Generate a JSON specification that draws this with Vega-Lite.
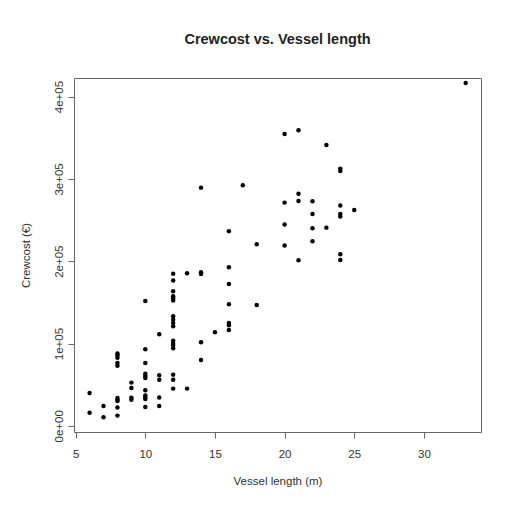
{
  "$schema": "https://vega.github.io/schema/vega-lite/v6.json",
  "width": 407,
  "height": 354,
  "autosize": "none",
  "padding": {"left": 74, "top": 78, "right": 36, "bottom": 74},
  "background": "white",
  "title": {"text": "Crewcost vs. Vessel length", "fontSize": 14.5, "font": "Liberation Sans", "fontWeight": "bold", "color": "#222222", "anchor": "middle", "offset": 32, "baseline": "alphabetic", "dy": 12},
  "config": {"view": {"stroke": "#666666", "strokeWidth": 1}},
  "data": {"values": [
    {"length": 6, "crewcost": 39900}, {"length": 6, "crewcost": 16000},
    {"length": 7, "crewcost": 24000}, {"length": 7, "crewcost": 10300},
    {"length": 8, "crewcost": 88000}, {"length": 8, "crewcost": 85700}, {"length": 8, "crewcost": 82600}, {"length": 8, "crewcost": 76500}, {"length": 8, "crewcost": 72900}, {"length": 8, "crewcost": 33800}, {"length": 8, "crewcost": 31800}, {"length": 8, "crewcost": 30100}, {"length": 8, "crewcost": 22300}, {"length": 8, "crewcost": 12400},
    {"length": 9, "crewcost": 52500}, {"length": 9, "crewcost": 45900}, {"length": 9, "crewcost": 34000}, {"length": 9, "crewcost": 31800},
    {"length": 10, "crewcost": 151600}, {"length": 10, "crewcost": 93000}, {"length": 10, "crewcost": 76300}, {"length": 10, "crewcost": 63400}, {"length": 10, "crewcost": 60500}, {"length": 10, "crewcost": 58000}, {"length": 10, "crewcost": 43100}, {"length": 10, "crewcost": 37000}, {"length": 10, "crewcost": 34500}, {"length": 10, "crewcost": 32500}, {"length": 10, "crewcost": 22900},
    {"length": 11, "crewcost": 111200}, {"length": 11, "crewcost": 61400}, {"length": 11, "crewcost": 56100}, {"length": 11, "crewcost": 34300}, {"length": 11, "crewcost": 24100},
    {"length": 12, "crewcost": 184900}, {"length": 12, "crewcost": 176600}, {"length": 12, "crewcost": 163400}, {"length": 12, "crewcost": 157300}, {"length": 12, "crewcost": 154900}, {"length": 12, "crewcost": 152300}, {"length": 12, "crewcost": 133000}, {"length": 12, "crewcost": 129000}, {"length": 12, "crewcost": 124900}, {"length": 12, "crewcost": 120900}, {"length": 12, "crewcost": 103500}, {"length": 12, "crewcost": 100600}, {"length": 12, "crewcost": 98300}, {"length": 12, "crewcost": 94300}, {"length": 12, "crewcost": 62200}, {"length": 12, "crewcost": 56100}, {"length": 12, "crewcost": 45200},
    {"length": 13, "crewcost": 185300}, {"length": 13, "crewcost": 45200},
    {"length": 14, "crewcost": 289400}, {"length": 14, "crewcost": 186500}, {"length": 14, "crewcost": 184600}, {"length": 14, "crewcost": 101500}, {"length": 14, "crewcost": 80000},
    {"length": 15, "crewcost": 113600},
    {"length": 16, "crewcost": 236300}, {"length": 16, "crewcost": 192600}, {"length": 16, "crewcost": 172400}, {"length": 16, "crewcost": 147600}, {"length": 16, "crewcost": 124900}, {"length": 16, "crewcost": 122100}, {"length": 16, "crewcost": 116500},
    {"length": 17, "crewcost": 292200},
    {"length": 18, "crewcost": 220500}, {"length": 18, "crewcost": 146800},
    {"length": 20, "crewcost": 354600}, {"length": 20, "crewcost": 271200}, {"length": 20, "crewcost": 244500}, {"length": 20, "crewcost": 219000},
    {"length": 21, "crewcost": 359100}, {"length": 21, "crewcost": 282100}, {"length": 21, "crewcost": 273100}, {"length": 21, "crewcost": 201100},
    {"length": 22, "crewcost": 272800}, {"length": 22, "crewcost": 257400}, {"length": 22, "crewcost": 240000}, {"length": 22, "crewcost": 224200},
    {"length": 23, "crewcost": 341200}, {"length": 23, "crewcost": 240800},
    {"length": 24, "crewcost": 312500}, {"length": 24, "crewcost": 309600}, {"length": 24, "crewcost": 267600}, {"length": 24, "crewcost": 257400}, {"length": 24, "crewcost": 254200}, {"length": 24, "crewcost": 208400}, {"length": 24, "crewcost": 201500},
    {"length": 25, "crewcost": 262200},
    {"length": 33, "crewcost": 416500}
  ]},
  "mark": {"type": "circle", "size": 20, "color": "#000000", "opacity": 1},
  "encoding": {
    "x": {
      "field": "length", "type": "quantitative",
      "scale": {"domain": [4.88, 34.1], "nice": false, "zero": false},
      "axis": {"values": [5, 10, 15, 20, 25, 30], "title": "Vessel length (m)", "grid": false, "domain": false,
        "tickColor": "#666666", "tickSize": 6, "labelFont": "Liberation Sans", "labelFontSize": 11.5, "labelColor": "#333333", "labelPadding": 10,
        "titleFont": "Liberation Sans", "titleFontSize": 11.5, "titleFontWeight": "normal", "titleColor": "#333333", "titlePadding": 16}
    },
    "y": {
      "field": "crewcost", "type": "quantitative",
      "scale": {"domain": [-7500, 422600], "nice": false, "zero": false},
      "axis": {"values": [0, 100000, 200000, 300000, 400000], "title": "Crewcost (€)", "grid": false, "domain": false,
        "labelExpr": "datum.value == 0 ? '0e+00' : (datum.value / 100000) + 'e+05'",
        "labelAngle": -90, "labelAlign": "center", "labelBaseline": "alphabetic",
        "tickColor": "#666666", "tickSize": 6, "labelFont": "Liberation Sans", "labelFontSize": 11.5, "labelColor": "#333333", "labelPadding": 6,
        "titleFont": "Liberation Sans", "titleFontSize": 11.5, "titleFontWeight": "normal", "titleColor": "#333333", "titlePadding": 22}
    }
  }
}
